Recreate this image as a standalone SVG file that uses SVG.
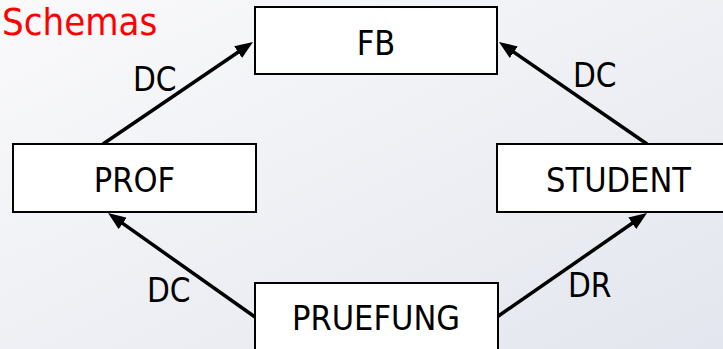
<svg xmlns="http://www.w3.org/2000/svg" width="723" height="349" viewBox="0 0 723 349">
<defs>
<linearGradient id="bg" x1="0" y1="0" x2="1" y2="1">
<stop offset="0" stop-color="#fafafb"/>
<stop offset="1" stop-color="#e3e6ee"/>
</linearGradient>
<marker id="ah" markerUnits="userSpaceOnUse" markerWidth="18" markerHeight="14" refX="7" refY="7" orient="auto">
<path d="M0,0 L18,7 L0,14 z" fill="#000"/>
</marker>
</defs>
<style>
.box{fill:#fff;stroke:#000;stroke-width:2}
.lbl{font-family:"DejaVu Sans Condensed","DejaVu Sans",sans-serif;font-size:34px;fill:#000;text-anchor:middle}
.elbl{font-family:"DejaVu Sans Condensed","DejaVu Sans",sans-serif;font-size:33px;fill:#000}
.edge{stroke:#000;stroke-width:3.5;fill:none;marker-end:url(#ah)}
</style>
<rect x="0" y="0" width="723" height="349" fill="url(#bg)"/>
<text x="2" y="35" font-family="DejaVu Sans Condensed, DejaVu Sans, sans-serif" font-size="38" fill="#ff0000">Schemas</text>
<g id="connectors">
<line class="edge" x1="103" y1="144" x2="243.9" y2="48.2"/>
<line class="edge" x1="647" y1="144" x2="508" y2="48.2"/>
<line class="edge" x1="255" y1="317" x2="117" y2="219.4"/>
<line class="edge" x1="497" y1="317" x2="638" y2="219.3"/>
<text class="elbl" x="133" y="91">DC</text>
<text class="elbl" x="573" y="87">DC</text>
<text class="elbl" x="147" y="302">DC</text>
<text class="elbl" x="568" y="297">DR</text>
</g>
<g id="FB">
<rect class="box" x="255" y="7" width="242" height="67"/>
<text class="lbl" x="376" y="55">FB</text>
</g>
<g id="PROF">
<rect class="box" x="13" y="144" width="243" height="68"/>
<text class="lbl" x="134.5" y="192">PROF</text>
</g>
<g id="STUDENT">
<rect class="box" x="497" y="144" width="243" height="68"/>
<text class="lbl" x="618.5" y="192">STUDENT</text>
</g>
<g id="PRUEFUNG">
<rect class="box" x="255" y="283" width="243" height="80"/>
<text class="lbl" x="376" y="330">PRUEFUNG</text>
</g>
</svg>
